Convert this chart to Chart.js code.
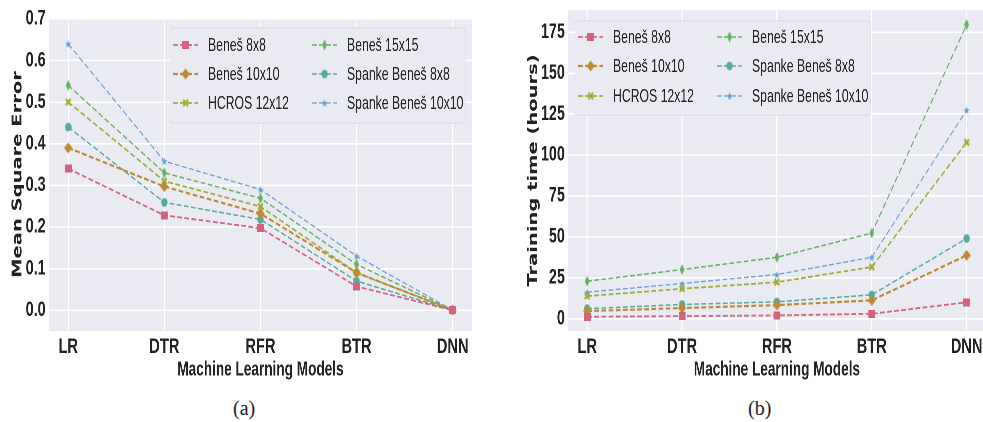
<!DOCTYPE html>
<html>
<head>
<meta charset="utf-8">
<script src="https://cdn.jsdelivr.net/npm/chart.js@4.4.1/dist/chart.umd.min.js"></script>
<style>
    body { margin: 0; width: 983px; height: 422px; overflow: hidden; background: #fff; position: relative; }
    .panel { position: absolute; top: 0; transform-origin: 0 0; transform: scaleX(0.68); }
    .cap { position: absolute; top: 398px; font: 20px/20px "Liberation Serif", "Times New Roman", serif; color: #222; }
</style>
</head>
<body>
<div class="panel" style="left:0;width:720px;height:390px"><canvas id="chartMSE"></canvas></div>
<div class="panel" style="left:490px;width:736px;height:390px"><canvas id="chartTiempo"></canvas></div>
<div class="cap" style="left:233px">(a)</div>
<div class="cap" style="left:748px">(b)</div>
<script>
// Datos
const modelos = ['LR', 'DTR', 'RFR', 'BTR', 'DNN']
const series = ['Beneš 8x8', 'Beneš 10x10', 'HCROS 12x12', 'Beneš 15x15', 'Spanke Beneš 8x8', 'Spanke Beneš 10x10']

const mseBenes8 = [0.34, 0.228, 0.197, 0.057, 0.0]
const mseBenes10 = [0.39, 0.297, 0.232, 0.09, 0.0]
const mseHcros12 = [0.50, 0.31, 0.249, 0.09, 0.0]
const mseBenes15 = [0.54, 0.33, 0.269, 0.11, 0.0]
const mseSpanke8 = [0.44, 0.259, 0.218, 0.07, 0.0]
const mseSpanke10 = [0.64, 0.358, 0.29, 0.13, 0.0]

const horasBenes8 = [1.2, 1.6, 2, 3, 10]
const horasBenes10 = [4.7, 6.5, 8.3, 11.2, 38.7]
const horasHcros12 = [13.8, 18.3, 22.3, 31.6, 107.7]
const horasBenes15 = [22.9, 30, 37.5, 52.3, 179.5]
const horasSpanke8 = [6.1, 8.7, 10.3, 14.6, 49]
const horasSpanke10 = [16.2, 21.5, 27, 37.5, 127.4]

const ticksMSE = [0, 0.1, 0.2, 0.3, 0.4, 0.5, 0.6, 0.7]
const ticksHoras = [0, 25, 50, 75, 100, 125, 150, 175]

// Estilos de cada serie
const colores = ['#d3637e', '#bd8b35', '#9fad3b', '#62b25f', '#56a99c', '#63a0d6']
const formas = ['cuadrado', 'rombo', 'equis', 'romboFino', 'circulo', 'estrella']
const tamanos = [[10, 8], [12, 11], [9, 8], [7, 11], [10, 9], [9, 8]]
const grosores = [1.8, 2.2, 1.8, 1.5, 1.5, 1.3]

const fuenteTexto = '"Liberation Sans", Arial, sans-serif'
const colorTexto = '#222222'

// Función para dibujar un marcador en un canvas pequeño
function crearMarcador(forma, color, w, h) {
    const c = document.createElement('canvas')
    c.width = w
    c.height = h
    const ctx = c.getContext('2d')
    ctx.fillStyle = color
    ctx.strokeStyle = color
    ctx.beginPath()
    if (forma === 'cuadrado') {
        ctx.rect(0, 0, w, h)
    } else if (forma === 'rombo' || forma === 'romboFino') {
        ctx.moveTo(w / 2, 0)
        ctx.lineTo(w, h / 2)
        ctx.lineTo(w / 2, h)
        ctx.lineTo(0, h / 2)
        ctx.closePath()
    } else if (forma === 'circulo') {
        ctx.ellipse(w / 2, h / 2, w / 2 - 0.3, h / 2 - 0.3, 0, 0, Math.PI * 2)
    } else if (forma === 'estrella') {
        for (let i = 0; i < 10; i++) {
            const r = i % 2 === 0 ? 1 : 0.45
            const a = -Math.PI / 2 + i * Math.PI / 5
            const px = w / 2 + Math.cos(a) * r * w / 2
            const py = h / 2 + 0.5 + Math.sin(a) * r * h / 2
            if (i === 0) ctx.moveTo(px, py)
            else ctx.lineTo(px, py)
        }
        ctx.closePath()
    } else if (forma === 'equis') {
        ctx.lineWidth = 2.8
        ctx.moveTo(1, 1)
        ctx.lineTo(w - 1, h - 1)
        ctx.moveTo(w - 1, 1)
        ctx.lineTo(1, h - 1)
        ctx.stroke()
        return c
    }
    ctx.fill()
    return c
}

const marcadores = formas.map((f, i) => crearMarcador(f, colores[i], tamanos[i][0], tamanos[i][1]))

// Plugin para el fondo gris del área del gráfico
const fondoGris = {
    id: 'fondoGris',
    beforeDraw(chart) {
        const { ctx, chartArea: a } = chart
        ctx.save()
        ctx.fillStyle = '#eaeaf2'
        ctx.fillRect(a.left, a.top, a.right - a.left, a.bottom - a.top)
        ctx.restore()
    }
}

// Plugin para la leyenda en dos columnas
const leyenda = {
    id: 'leyenda',
    afterDraw(chart, args, opts) {
        const ctx = chart.ctx
        const [bx, by, bw, bh] = opts.caja
        ctx.save()
        ctx.fillStyle = 'rgba(234, 234, 242, 0.85)'
        ctx.strokeStyle = '#d9d9e0'
        ctx.lineWidth = 1
        ctx.beginPath()
        ctx.roundRect(bx, by, bw, bh, 4)
        ctx.fill()
        ctx.stroke()

        chart.data.datasets.forEach((ds, i) => {
            const hx = opts.columnas[Math.floor(i / 3)]
            const y = opts.filas[i % 3]
            ctx.strokeStyle = ds.borderColor
            ctx.lineWidth = ds.borderWidth
            ctx.setLineDash(ds.borderDash)
            ctx.beginPath()
            ctx.moveTo(hx, y)
            ctx.lineTo(hx + 37, y)
            ctx.stroke()
            ctx.setLineDash([])
            const m = ds.pointStyle
            ctx.drawImage(m, hx + 18.5 - m.width / 2, y - m.height / 2)
            ctx.fillStyle = colorTexto
            ctx.font = '18px ' + fuenteTexto
            ctx.textBaseline = 'middle'
            ctx.fillText(ds.label, hx + 51.5, y + 1)
        })
        ctx.restore()
    }
}

// Función para crear cada gráfico
function crearGrafico(id, ancho, valores, cfg) {
    const canvas = document.getElementById(id)
    canvas.width = ancho
    canvas.height = 390
    const datasets = valores.map((serie, i) => ({
        label: series[i],
        data: serie.map((v, j) => ({ x: j, y: v })),
        borderColor: colores[i],
        backgroundColor: colores[i],
        borderWidth: grosores[i],
        borderDash: [7, 3.5],
        pointStyle: marcadores[i],
        pointRadius: 5,
        tension: 0,
        fill: false,
        clip: false
    }))

    return new Chart(canvas.getContext('2d'), {
        type: 'line',
        data: { datasets },
        plugins: [fondoGris, leyenda],
        options: {
            responsive: false,
            animation: false,
            devicePixelRatio: 2,
            layout: { padding: { top: cfg.arriba, right: cfg.derecha, bottom: 0, left: 0 } },
            plugins: {
                legend: { display: false },
                tooltip: { enabled: false },
                leyenda: cfg.leyenda
            },
            scales: {
                x: {
                    type: 'linear',
                    min: -0.2,
                    max: 4.2,
                    afterBuildTicks: s => { s.ticks = modelos.map((m, j) => ({ value: j })) },
                    afterFit: s => { s.height = 59; s.paddingLeft = 0; s.paddingRight = 0 },
                    border: { display: false },
                    grid: { color: '#ffffff', lineWidth: 1.6, drawTicks: false },
                    ticks: {
                        padding: 3,
                        autoSkip: false,
                        maxRotation: 0,
                        color: colorTexto,
                        font: { family: fuenteTexto, size: 21.5, weight: 'bold' },
                        callback: v => modelos[v] ?? ''
                    },
                    title: {
                        display: true,
                        text: 'Machine Learning Models',
                        color: colorTexto,
                        font: { family: fuenteTexto, size: 20, weight: 'bold' },
                        padding: { top: 0, bottom: 8 }
                    }
                },
                y: {
                    min: cfg.min,
                    max: cfg.max,
                    afterBuildTicks: s => { s.ticks = cfg.ticks.map(v => ({ value: v })) },
                    afterFit: s => { s.width = cfg.anchoY; s.paddingTop = 0; s.paddingBottom = 0 },
                    border: { display: false },
                    grid: { color: '#ffffff', lineWidth: 1.6, drawTicks: false },
                    ticks: {
                        padding: cfg.separacion,
                        color: colorTexto,
                        font: { family: fuenteTexto, size: 21, weight: 'bold' },
                        callback: v => v.toFixed(cfg.decimales)
                    },
                    title: {
                        display: true,
                        text: cfg.titulo,
                        color: colorTexto,
                        font: { family: '"DejaVu Sans", sans-serif', size: 19.5, weight: 'bold' },
                        padding: { top: cfg.posTitulo, bottom: 0 }
                    }
                }
            }
        }
    })
}

crearGrafico('chartMSE', 720,
    [mseBenes8, mseBenes10, mseHcros12, mseBenes15, mseSpanke8, mseSpanke10], {
        min: -0.05, max: 0.702, ticks: ticksMSE, decimales: 1,
        titulo: 'Mean Square Error', anchoY: 72, separacion: 5, posTitulo: 14.5,
        arriba: 18, derecha: 26,
        leyenda: { caja: [250, 28, 434, 95], columnas: [254.4, 458.8], filas: [45, 74, 103] }
    })

crearGrafico('chartTiempo', 736,
    [horasBenes8, horasBenes10, horasHcros12, horasBenes15, horasSpanke8, horasSpanke10], {
        min: -7.5, max: 188.5, ticks: ticksHoras, decimales: 0,
        titulo: 'Training time (hours)', anchoY: 115, separacion: 5, posTitulo: 52,
        arriba: 10, derecha: 5,
        leyenda: { caja: [125, 21, 435, 94], columnas: [129.4, 333.8], filas: [37, 66, 96] }
    })
</script>
</body>
</html>
